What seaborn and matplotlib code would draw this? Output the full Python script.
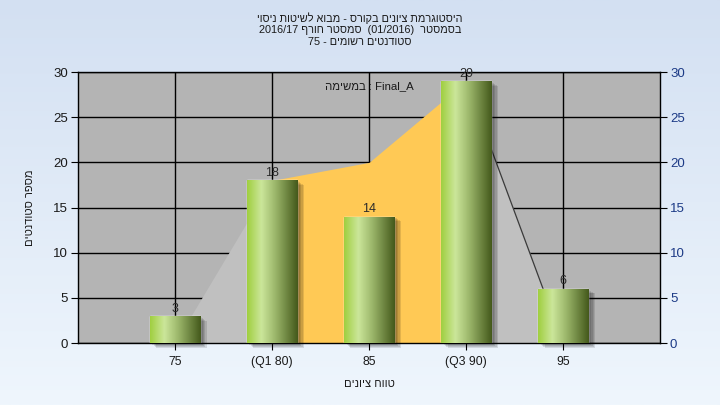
import numpy as np
import pandas as pd
import matplotlib
matplotlib.use("Agg")
import matplotlib.pyplot as plt
from matplotlib.colors import LinearSegmentedColormap
from matplotlib.patches import Rectangle
from matplotlib.transforms import offset_copy
import seaborn as sns

# data
grade_labels = ["75", "(Q1 80)", "85", "(Q3 90)", "95"]
students = [3, 18, 14, 29, 6]
curve = [0, 18, 20, 29, 0]          # background area
y_ticks = [0, 5, 10, 15, 20, 25, 30]


def heb(s):
    # matplotlib has no bidi, so hebrew words go in visual order
    return s[::-1]


title_lines = [
    heb("היסטוגרמת ציונים בקורס - מבוא לשיטות ניסוי"),
    "2016/17 " + heb("סמסטר חורף") + "  (01/2016)  " + heb("בסמסטר"),
    "75 - " + heb("סטודנטים רשומים"),
]
task_text = heb("במשימה") + " : Final_A"
x_title = heb("טווח ציונים")
y_title = heb("מספר סטודנטים")

sns.set_style("ticks")
plt.rcParams["font.family"] = ["Liberation Sans", "DejaVu Sans"]

df = pd.DataFrame({"grade": grade_labels, "count": students})

fig = plt.figure(figsize=(7.2, 4.05), dpi=100)

# gradient background of the whole picture
bg = fig.add_axes([0, 0, 1, 1], zorder=-1)
bg_cmap = LinearSegmentedColormap.from_list("bg", ["#d3e0f2", "#eff6fd"])
bg.imshow(np.linspace(0, 1, 256).reshape(-1, 1), aspect="auto", cmap=bg_cmap,
          extent=[0, 1, 0, 1])
bg.axis("off")

ax = fig.add_axes([0.108, 0.153, 0.809, 0.669])
ax.set_facecolor("#b4b4b4")

xs = np.arange(len(grade_labels))
ax.fill_between(xs[:2], curve[:2], color="#c0c0c0", lw=0, zorder=1.5)
ax.fill_between(xs[3:], curve[3:], color="#c0c0c0", lw=0, zorder=1.5)
ax.fill_between(xs[1:4], curve[1:4], color="#ffc955", lw=0, zorder=1.5)
ax.plot(xs[3:], curve[3:], color="#3a3a3a", lw=0.9, zorder=1.6)

sns.barplot(data=df, x="grade", y="count", color="#9cc640", width=0.52,
            saturation=1, ax=ax, zorder=3)

bars = list(ax.containers[0])
bar_cmap = LinearSegmentedColormap.from_list(
    "cyl", [(0, "#a0cf40"), (0.28, "#cbe69a"), (0.55, "#9db86c"), (1, "#44591b")])
grad = np.linspace(0, 1, 128).reshape(1, -1)
for b in bars:
    x0, y0, w, h = b.get_x(), b.get_y(), b.get_width(), b.get_height()
    # soft shadow, a few stacked offset rectangles
    for k in range(5):
        tr = offset_copy(ax.transData, fig=fig, x=1.5 + k * 1.3, y=-1 - k * 0.9,
                         units="dots")
        ax.add_patch(Rectangle((x0, y0), w, h, transform=tr, facecolor="black",
                               edgecolor="none", alpha=0.11, zorder=2.5,
                               clip_on=False))
    im = ax.imshow(grad, extent=[x0, x0 + w, y0, y0 + h], aspect="auto",
                   cmap=bar_cmap, zorder=3.1)
    im.set_clip_path(b)

ax.bar_label(ax.containers[0], labels=[str(v) for v in students], padding=1,
             fontsize=9, color="#2a2a2a", zorder=5)

ax.set_xlim(-1, 5)
ax.set_ylim(0, 30)
ax.set_yticks(y_ticks)
ax.grid(True, color="black", lw=1)
ax.set_axisbelow(True)
for s in ax.spines.values():
    s.set_color("black")
    s.set_linewidth(1)
ax.tick_params(axis="both", direction="out", length=5, color="black",
               labelsize=9.5, pad=2)
ax.tick_params(axis="y", labelcolor="#1a1a1a")
ax.tick_params(axis="x", labelcolor="#1a1a1a", labelsize=8.8, pad=4)
ax.set_xlabel(x_title, fontsize=8, color="#1a1a1a", labelpad=8)
ax.set_ylabel(y_title, fontsize=8, color="#1a1a1a", labelpad=13)

ax.text(2, 28.5, task_text, ha="center", va="center", fontsize=8.2,
        color="#1a1a1a", zorder=5)

ax2 = ax.twinx()
ax2.set_ylim(0, 30)
ax2.set_yticks(y_ticks)
ax2.tick_params(axis="y", direction="out", length=5, color="black",
                labelsize=9.5, labelcolor="#1c3a86", pad=2)
for s in ax2.spines.values():
    s.set_visible(False)

for i, line in enumerate(title_lines):
    fig.text(0.5, 1 - (18 + 12 * i) / 405, line, ha="center", va="center",
             fontsize=7.8, color="#1a1a1a")

fig.savefig("out.png", dpi=100)
